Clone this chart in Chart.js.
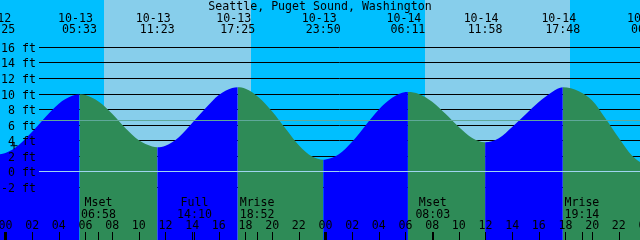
<!DOCTYPE html>
<html>
<head>
<meta charset="utf-8">
<script src="https://cdn.jsdelivr.net/npm/chart.js@4.4.0/dist/chart.umd.min.js"></script>
<style>
  html, body { margin: 0; padding: 0; background: #00bfff; }
  #wrap { width: 640px; height: 240px; }
</style>
</head>
<body>
<div id="wrap"><canvas id="tideChart" width="640" height="240"></canvas></div>
<script>
// hours counted from 10-13 00:00, heights in feet
const stationName = 'Seattle, Puget Sound, Washington';

const tideHours = [-1.5, -0.58, 0, 1, 2, 3, 4, 5, 5.55,
    6, 7, 8, 9, 10, 11, 11.38,
    12, 13, 14, 15, 16, 17, 17.42,
    18, 19, 20, 21, 22, 23, 23.83,
    24, 25, 26, 27, 28, 29, 30, 30.18,
    31, 32, 33, 34, 35, 35.97,
    37, 38, 39, 40, 41, 41.8,
    43, 44, 45, 46, 47, 48, 48.23, 49];
const tideFeet = [2.6, 2.2, 2.37, 3.4, 5.1, 7.0, 8.7, 9.7, 9.9,
    9.8, 8.95, 7.4, 5.55, 4.0, 3.2, 3.1,
    3.3, 4.4, 6.2, 8.1, 9.8, 10.7, 10.8,
    10.6, 9.5, 7.7, 5.5, 3.35, 1.9, 1.5,
    1.52, 2.2, 3.8, 5.9, 7.95, 9.45, 10.18, 10.2,
    9.95, 8.95, 7.4, 5.7, 4.3, 3.75,
    4.25, 5.7, 7.3, 8.9, 10.2, 10.8,
    10.3, 9.1, 6.8, 4.3, 2.0, 0.85, 0.8, 1.2];

const extremeHours = [-0.58, 5.55, 11.38, 17.42, 23.83, 30.18, 35.97, 41.8, 48.23];
const extremeDates = ['10-12', '10-13', '10-13', '10-13', '10-13', '10-14', '10-14', '10-14', '10-15'];
const extremeTimes = ['23:25', '05:33', '11:23', '17:25', '23:50', '06:11', '11:58', '17:48', '00:14'];

const sunriseHours = [7.38, 31.47];
const sunsetHours = [18.42, 42.35];

const moonHours = [6.97, 14.17, 18.87, 32.05, 43.23];
const moonNames = ['Mset', 'Full', 'Mrise', 'Mset', 'Mrise'];
const moonTimes = ['06:58', '14:10', '18:52', '08:03', '19:14'];

const footTicks = [16, 14, 12, 10, 8, 6, 4, 2, 0, -2];
const hourTicks = [0, 2, 4, 6, 8, 10, 12, 14, 16, 18, 20, 22, 24, 26, 28, 30, 32, 34, 36, 38, 40, 42, 44, 46, 48];
const hourLabels = ['00', '02', '04', '06', '08', '10', '12', '14', '16', '18', '20', '22',
    '00', '02', '04', '06', '08', '10', '12', '14', '16', '18', '20', '22', '00'];

const meanSeaLevel = 6.6;
const datumLevel = 0;
const nowMark = [{ x: 0.64, y: 3.3 }];

const NIGHT = '#00bfff';
const DAY = '#87ceeb';
const RISING = '#0000ff';
const FALLING = '#2e8b57';
const FONT = '11.6px "DejaVu Sans Mono", "Liberation Mono", monospace';
const LINE_START = 39;

const tideDecor = {
    id: 'tideDecor',
    beforeDatasetsDraw(chart) {
        const { ctx, chartArea: a } = chart;
        const xs = chart.scales.x, ys = chart.scales.y;
        ctx.save();
        ctx.fillStyle = NIGHT;
        ctx.fillRect(a.left, a.top, a.width, a.height);
        ctx.fillStyle = DAY;
        sunriseHours.forEach((h, i) => {
            const x0 = Math.round(xs.getPixelForValue(h));
            const x1 = Math.round(xs.getPixelForValue(sunsetHours[i]));
            ctx.fillRect(x0, a.top, x1 - x0, a.height);
        });
        ctx.strokeStyle = '#000';
        ctx.lineWidth = 1;
        ctx.beginPath();
        footTicks.forEach(ft => {
            const py = Math.round(ys.getPixelForValue(ft)) + 0.5;
            ctx.moveTo(LINE_START, py);
            ctx.lineTo(a.right, py);
        });
        ctx.stroke();
        ctx.restore();
    },
    afterDatasetsDraw(chart) {
        const { ctx, chartArea: a } = chart;
        const xs = chart.scales.x, ys = chart.scales.y;
        ctx.save();

        // mean sea level and datum lines on top of the water
        const lvl = (v, color) => {
            const py = Math.round(ys.getPixelForValue(v)) + 0.5;
            ctx.strokeStyle = color;
            ctx.beginPath();
            ctx.moveTo(LINE_START, py);
            ctx.lineTo(a.right, py);
            ctx.stroke();
        };
        ctx.lineWidth = 1;
        lvl(meanSeaLevel, '#5fa89a');
        lvl(datumLevel, '#9fd5f0');

        ctx.font = FONT;
        ctx.fillStyle = '#000';

        // y labels
        ctx.textAlign = 'right';
        footTicks.forEach(ft => {
            const py = Math.round(ys.getPixelForValue(ft));
            ctx.fillText(ft + ' ft', 36, py + 4.5);
        });

        // title
        ctx.textAlign = 'center';
        ctx.fillText(stationName, 320, 10);

        // high / low labels
        extremeHours.forEach((h, i) => {
            const px = xs.getPixelForValue(h);
            ctx.fillText(extremeDates[i], px - 4, 22);
            ctx.fillText(extremeTimes[i], px, 33);
        });

        // moon events
        moonHours.forEach((h, i) => {
            const px = xs.getPixelForValue(h);
            ctx.fillText(moonNames[i], px, 206);
            ctx.fillText(moonTimes[i], px, 218);
            ctx.fillRect(Math.round(px), 232, 1, 8);
        });

        // hour ticks
        hourTicks.forEach((h, i) => {
            const px = xs.getPixelForValue(h);
            ctx.fillText(hourLabels[i], px, 229);
            if (h % 24 === 0) {
                ctx.fillRect(Math.round(px) - 1, 232, 3, 8);
            } else {
                ctx.fillRect(Math.round(px), 232, 1, 8);
            }
        });
        ctx.restore();
    }
};

new Chart(document.getElementById('tideChart'), {
    type: 'line',
    data: {
        datasets: [{
            data: tideHours.map((h, i) => ({ x: h, y: tideFeet[i] })),
            fill: 'start',
            backgroundColor: RISING,
            borderWidth: 0,
            borderColor: 'rgba(0,0,0,0)',
            pointRadius: 0,
            cubicInterpolationMode: 'monotone',
            segment: {
                backgroundColor: c => c.p1.parsed.y > c.p0.parsed.y ? RISING : FALLING
            },
            order: 2
        }, {
            type: 'scatter',
            data: nowMark,
            pointStyle: 'cross',
            pointRadius: 3.5,
            borderColor: '#000',
            borderWidth: 1,
            order: 1
        }]
    },
    options: {
        responsive: false,
        animation: false,
        layout: { padding: 0, autoPadding: false },
        plugins: { legend: { display: false }, tooltip: { enabled: false } },
        scales: {
            x: { type: 'linear', min: -0.4125, max: 47.588, display: false },
            y: { min: -8.8, max: 22.0, display: false }
        }
    },
    plugins: [tideDecor]
});
</script>
</body>
</html>
